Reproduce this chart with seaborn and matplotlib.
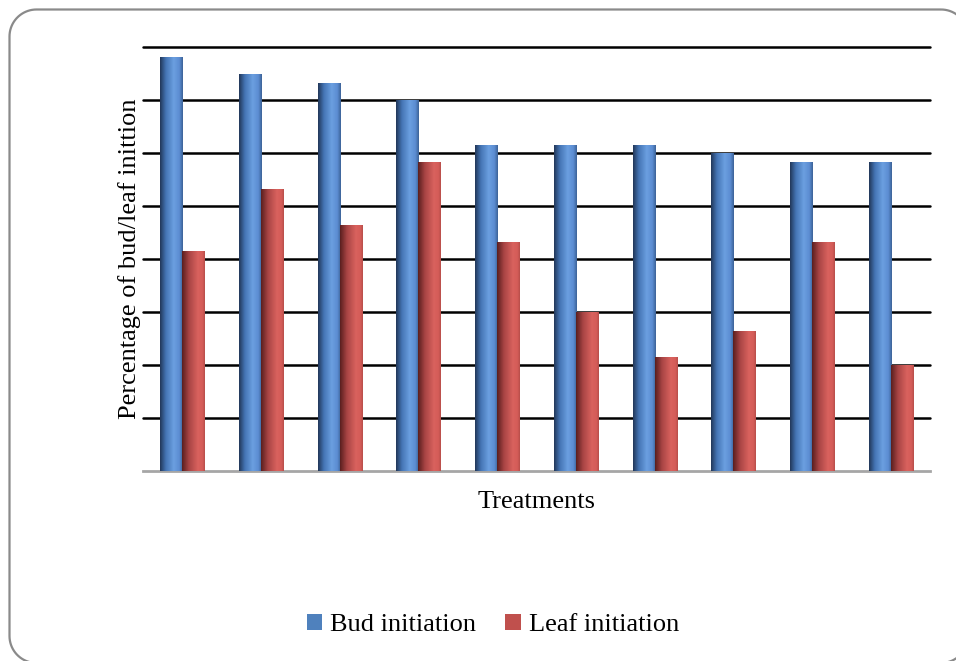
import numpy as np
import pandas as pd
import matplotlib
matplotlib.use("Agg")
import matplotlib.pyplot as plt
from matplotlib.colors import LinearSegmentedColormap
from matplotlib.patches import Patch, PathPatch
from matplotlib.path import Path
from matplotlib.transforms import Affine2D
import seaborn as sns

treatments = ["T1", "T2", "T3", "T4", "T5", "T6", "T7", "T8", "T9", "T10"]
bud_initiation = [78.1, 74.9, 73.2, 70.0, 61.5, 61.5, 61.5, 60.0, 58.3, 58.3]
leaf_initiation = [41.5, 53.2, 46.4, 58.3, 43.2, 30.0, 21.5, 26.4, 43.2, 20.0]
series_names = ["Bud initiation", "Leaf initiation"]
grid_values = [10, 20, 30, 40, 50, 60, 70, 80]

df = pd.DataFrame({
    "Treatment": treatments * 2,
    "Series": [series_names[0]] * len(treatments) + [series_names[1]] * len(treatments),
    "Value": bud_initiation + leaf_initiation,
})

sns.set_theme(style="white")
plt.rcParams["font.family"] = ["Liberation Serif", "DejaVu Serif"]
plt.rcParams["text.color"] = "black"
plt.rcParams["axes.labelcolor"] = "black"

W, H = 956, 661
fig = plt.figure(figsize=(W / 100, H / 100), dpi=100)
ax = fig.add_axes([143 / W, 190 / H, 787 / W, 424 / H])

legend_colors = ["#4f81bd", "#c0504d"]
sns.barplot(data=df, x="Treatment", y="Value", hue="Series", palette=legend_colors,
            width=0.56, gap=0, legend=False, ax=ax, saturation=1, linewidth=0, errorbar=None)

blue_cmap = LinearSegmentedColormap.from_list("b", [(0, "#22385a"), (0.25, "#4474b4"), (0.6, "#6b9fe0"), (0.85, "#5c8dd2"), (1, "#3d6399")])
red_cmap = LinearSegmentedColormap.from_list("r", [(0, "#5a1f1f"), (0.3, "#a84444"), (0.7, "#d9625e"), (0.9, "#d45c58"), (1, "#b84e4b")])

grad = np.linspace(0, 1, 64).reshape(1, -1)
n = len(treatments)
for i, p in enumerate(list(ax.patches)):
    cmap = blue_cmap if i < n else red_cmap
    x0, w, h = p.get_x(), p.get_width(), p.get_height()
    if h <= 0:
        continue
    im = ax.imshow(grad, cmap=cmap, aspect="auto", extent=[x0, x0 + w, 0, h], zorder=1.5)
    im.set_clip_path(p)

ax.set_ylim(0, 80)
ax.set_xlim(-0.5, len(treatments) - 0.5)

for g in grid_values:
    ax.axhline(g, color="black", lw=1.8, zorder=0.5, clip_on=False)

for s in ["top", "left", "right"]:
    ax.spines[s].set_visible(False)
ax.spines["bottom"].set_color("#a6a6a6")
ax.spines["bottom"].set_linewidth(2)
ax.spines["bottom"].set_zorder(1)
ax.set_xticks(range(n))
ax.set_xticklabels([])
ax.set_yticks(grid_values)
ax.set_yticklabels([])
ax.tick_params(length=0)
ax.set_facecolor("none")

ax.set_ylabel("Percentage of bud/leaf inittion", fontsize=19, color="black", labelpad=-2)
ax.set_xlabel("Treatments", fontsize=19, color="black", labelpad=11)

handles = [Patch(facecolor=c, edgecolor="none") for c in legend_colors]
fig.legend(handles, series_names, loc="center", bbox_to_anchor=(493 / W, 1 - 625 / H),
           ncol=2, frameon=False, fontsize=19, handlelength=0.6, handleheight=0.6,
           handletextpad=0.3, columnspacing=1.1)

# rounded frame in pixel coordinates (y from top)
r = 27
bx0, bx1, by0, by1 = 9.5, 968, 9.5, 663
pts = []
for cx, cy, a0 in [(bx1 - r, by0 + r, -90), (bx1 - r, by1 - r, 0), (bx0 + r, by1 - r, 90), (bx0 + r, by0 + r, 180)]:
    ang = np.radians(np.linspace(a0, a0 + 90, 20))
    pts += list(zip(cx + r * np.cos(ang), cy + r * np.sin(ang)))
pts.append(pts[0])
frame_path = Path(np.array(pts))
to_fig = Affine2D().scale(1 / W, -1 / H).translate(0, 1) + fig.transFigure
frame = PathPatch(frame_path, transform=to_fig, facecolor="none", edgecolor="#8a8a8a", lw=1.6)
fig.patches.append(frame)

fig.savefig("out.png", dpi=100)
